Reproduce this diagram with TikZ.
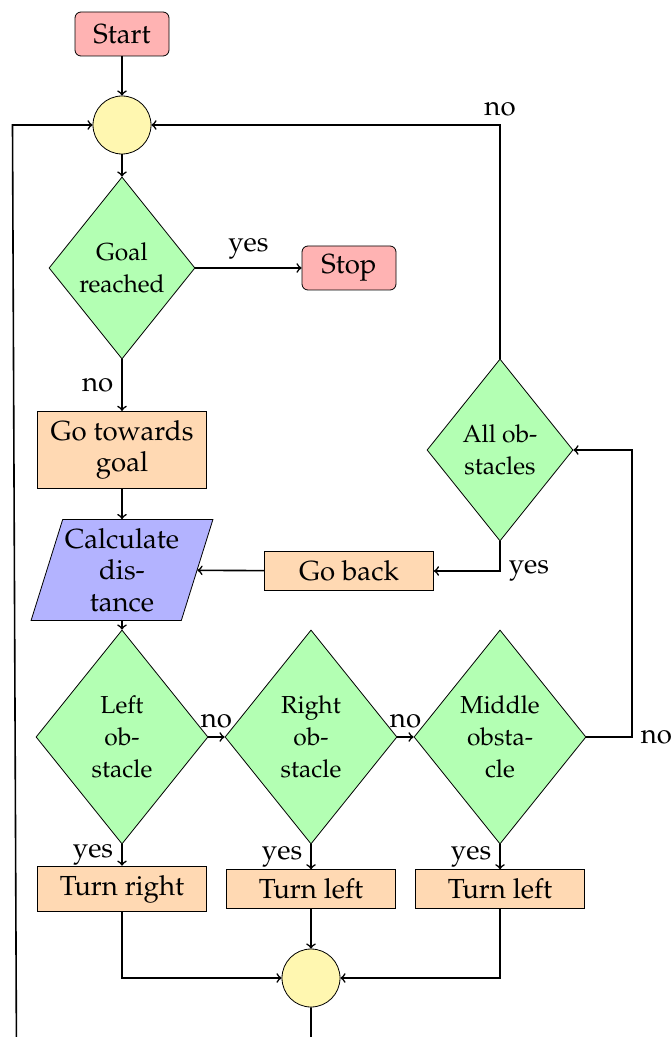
\documentclass[tikz,border=0pt]{standalone}
\usepackage[T1]{fontenc}
\usepackage{mathpazo}
\usetikzlibrary{shapes.geometric}
\definecolor{cpink}{RGB}{255,179,179}
\definecolor{cgreen}{RGB}{179,255,179}
\definecolor{corange}{RGB}{255,217,179}
\definecolor{cblue}{RGB}{179,179,255}
\definecolor{cyellow}{RGB}{255,247,176}
\tikzset{
  term/.style={draw, fill=cpink, rounded corners=3pt, minimum width=47pt, minimum height=22pt, inner sep=0pt},
  proc/.style={draw, fill=corange, minimum width=84.5pt, inner xsep=2pt, inner ysep=4.5pt, align=center},
  dec/.style={draw, fill=cgreen, diamond, inner sep=0pt, align=center, font=\fontsize{12.3}{16}\selectfont},
  decs/.style={dec, minimum width=73pt, minimum height=91pt},
  decl/.style={dec, minimum width=86pt, minimum height=107pt},
  io/.style={draw, fill=cblue, trapezium, trapezium left angle=70, trapezium right angle=110, trapezium stretches=true, minimum width=91pt, minimum height=50.5pt, inner sep=0pt, align=center},
  junc/.style={draw, fill=cyellow, circle, minimum size=29pt, inner sep=0pt},
  conn/.style={->, thick},
  lbl/.style={inner sep=4pt}
}
\begin{document}
\begin{tikzpicture}[x=0.5pt,y=-0.5pt, font=\fontsize{13.8}{15.8}\selectfont]
\useasboundingbox (0,0) rectangle (672,1037);
\node[term] (start) at (122,34) {Start};
\node[junc] (c1) at (122,125) {};
\node[decs] (goal) at (122,268) {Goal\\reached};
\node[term] (stop) at (349,268) {Stop};
\node[proc] (toward) at (122,450) {Go towards\\goal};
\node[io] (calc) at (122,570) {Calculate\\dis-\\tance};
\node[proc] (back) at (349,571) {Go back};
\node[decs] (all) at (500,450) {All ob-\\stacles};
\node[decl] (left) at (122,737) {Left\\ob-\\stacle};
\node[decl] (right) at (311,737) {Right\\ob-\\stacle};
\node[decl] (mid) at (500,737) {Middle\\obsta-\\cle};
\node[proc] (tr) at (122,889) {Turn right};
\node[proc] (tl1) at (311,889) {Turn left};
\node[proc] (tl2) at (500,889) {Turn left};
\node[junc] (c2) at (311,978) {};
\coordinate (rc) at (632,737);
\coordinate (bot) at (311,1060);
\coordinate (lb) at (16.5,1060);
\coordinate (lt) at (12.5,125);

\draw[conn] (start) -- (c1);
\draw[conn] (c1) -- (goal);
\draw[conn] (goal) -- node[lbl, above] (l1) {yes} (stop);
\draw[conn] (goal) -- node[lbl, left] (l2) {no} (toward);
\draw[conn] (toward) -- (calc);
\draw[conn] (calc) -- (left);
\draw[conn] (left) -- node[lbl, above] (l3) {no} (right);
\draw[conn] (right) -- node[lbl, above] (l4) {no} (mid);
\draw[conn] (left) -- node[lbl, left] (l5) {yes} (tr);
\draw[conn] (right) -- node[lbl, left] (l6) {yes} (tl1);
\draw[conn] (mid) -- node[lbl, left] (l7) {yes} (tl2);
\draw[conn] (tr) |- (c2);
\draw[conn] (tl1) -- (c2);
\draw[conn] (tl2) |- (c2);
\draw[conn] (mid) -- (rc) node[lbl, right] (l8) {no} |- (all);
\draw[conn] (all.south) |- node[pos=0.5, lbl, right] (l9) {yes} (back);
\draw[conn] (back) -- (calc);
\draw[conn] (all.north) |- node[pos=0.5, lbl, above] (l10) {no} (c1);
\draw[conn] (c2) -- (bot) -- (lb) -- (lt) -- (c1);
\end{tikzpicture}
\end{document}
